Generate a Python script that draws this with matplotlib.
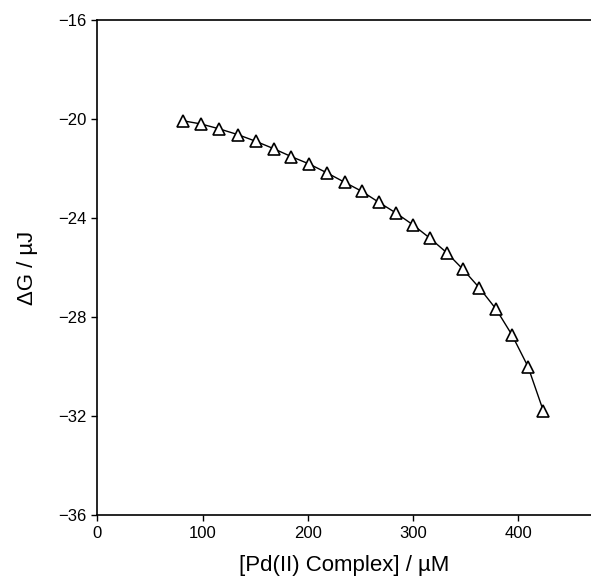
import matplotlib.pyplot as plt

plt.rcParams['font.family'] = ['Liberation Sans', 'DejaVu Sans']

# Pd(II) complex concentration (uM) and free energy change (uJ)
conc = [81.1, 98.5, 116.0, 133.4, 150.5, 167.6, 184.3, 201.4, 218.3, 235.1, 251.2,
        267.6, 283.8, 300.0, 316.1, 331.9, 347.1, 362.9, 378.8, 394.0, 409.2, 423.7]
delta_g = [-20.07, -20.20, -20.40, -20.63, -20.90, -21.20, -21.52, -21.82, -22.18,
           -22.56, -22.92, -23.37, -23.80, -24.28, -24.82, -25.40, -26.06, -26.82,
           -27.68, -28.73, -30.01, -31.79]

x_ticks = [0, 100, 200, 300, 400]
y_ticks = [-36, -32, -28, -24, -20, -16]


def main():
    fig = plt.figure(figsize=(5.91, 5.81), dpi=100)
    ax = fig.add_axes([0.1646, 0.1136, 0.8354, 0.852])

    ax.plot(conc, delta_g, color="black", lw=1.0, marker="^", ms=8,
            mfc="white", mec="black", mew=1.2)

    ax.set_xlim(0, 469)
    ax.set_ylim(-36, -16)
    ax.set_xticks(x_ticks)
    ax.set_yticks(y_ticks)
    ax.set_yticklabels([f"\u2212{abs(v)}" for v in y_ticks])
    ax.tick_params(direction="out", length=4, width=1, labelsize=12, pad=4)

    ax.spines["right"].set_visible(False)
    for side in ("left", "top", "bottom"):
        ax.spines[side].set_linewidth(1.2)

    ax.set_xlabel("[Pd(II) Complex] / \u00b5M", fontsize=16, labelpad=10)
    ax.set_ylabel("\u0394G / \u00b5J", fontsize=16, labelpad=14)

    fig.savefig("out.png", dpi=100)
    plt.close(fig)


if __name__ == "__main__":
    main()
